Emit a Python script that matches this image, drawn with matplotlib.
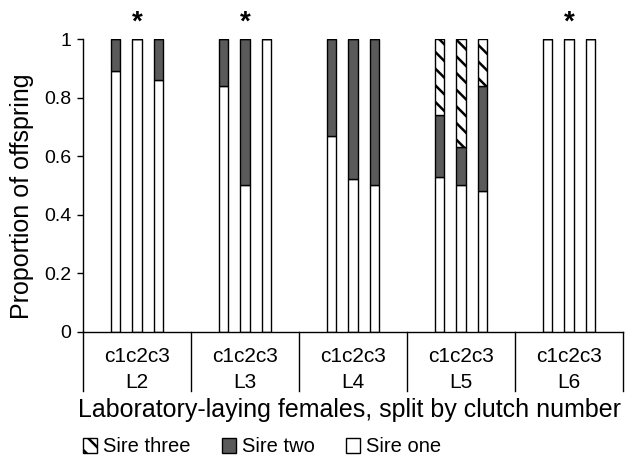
import numpy as np
import matplotlib
matplotlib.use('Agg')
import matplotlib.pyplot as plt
from matplotlib.patches import Patch

plt.rcParams['font.family'] = ['Liberation Sans', 'DejaVu Sans']
plt.rcParams['hatch.linewidth'] = 1.8
plt.rcParams['hatch.color'] = '#333333'

# data
females = ['L2', 'L3', 'L4', 'L5', 'L6']
clutches = ['c1', 'c2', 'c3']
sire_one = [0.89, 1.00, 0.86,
            0.84, 0.50, 1.00,
            0.67, 0.52, 0.50,
            0.53, 0.50, 0.48,
            1.00, 1.00, 1.00]
sire_two = [0.11, 0.00, 0.14,
            0.16, 0.50, 0.00,
            0.33, 0.48, 0.50,
            0.21, 0.13, 0.36,
            0.00, 0.00, 0.00]
sire_three = [0.00, 0.00, 0.00,
              0.00, 0.00, 0.00,
              0.00, 0.00, 0.00,
              0.26, 0.37, 0.16,
              0.00, 0.00, 0.00]
starred = ['L2', 'L3', 'L6']  # significant, marked above c2

dark = '#5a5a5a'
hatch = '\\\\'
bar_w = 0.085
offs = np.array([-0.2, 0.0, 0.2])

fig = plt.figure(figsize=(6.4, 4.58), dpi=100)
ax = fig.add_axes([83 / 640, 1 - 331.7 / 458, 540 / 640, 292.7 / 458])

x = (np.arange(len(females))[:, None] + 0.5 + offs[None, :]).ravel()
s1 = np.array(sire_one)
s2 = np.array(sire_two)
s3 = np.array(sire_three)

ax.bar(x, s1, bar_w, color='white', edgecolor='black', lw=1)
ax.bar(x, s2, bar_w, bottom=s1, color=dark, edgecolor='black', lw=1)
ax.bar(x, s3, bar_w, bottom=s1 + s2, color='white', edgecolor='black',
       lw=1, hatch=hatch)

ax.set_xlim(0, len(females))
ax.set_ylim(0, 1)
ax.set_yticks([0, 0.2, 0.4, 0.6, 0.8, 1])
ax.set_yticklabels(['0', '0.2', '0.4', '0.6', '0.8', '1'])
ax.tick_params(axis='y', labelsize=14, length=4.5, width=1, pad=4)
ax.set_xticks([])
for side in ['top', 'right']:
    ax.spines[side].set_visible(False)
ax.spines['left'].set_linewidth(1)
ax.spines['bottom'].set_linewidth(1)

# group dividers and labels below the axis
for i in range(len(females) + 1):
    ax.plot([i, i], [0, -0.204], color='black', lw=1, clip_on=False)
for i, name in enumerate(females):
    ax.text(i + 0.5, -0.1025, ''.join(clutches), ha='center', va='baseline', fontsize=15)
    ax.text(i + 0.5, -0.193, name, ha='center', va='baseline', fontsize=15)
    if name in starred:
        ax.text(i + 0.5, 1.055, '*', ha='center', va='center', fontsize=20,
                fontweight='bold', clip_on=False)

ax.set_ylabel('Proportion of offspring', fontsize=18)
ax.yaxis.set_label_coords(-0.09, 0.464)
ax.set_xlabel('Laboratory-laying females, split by clutch number', fontsize=18)
ax.xaxis.set_label_coords(0.494, -0.225)

handles = [Patch(facecolor='white', edgecolor='black', hatch=hatch, label='Sire three'),
           Patch(facecolor=dark, edgecolor='black', label='Sire two'),
           Patch(facecolor='white', edgecolor='black', label='Sire one')]
fig.legend(handles=handles, loc='center left', bbox_to_anchor=(83 / 640, 1 - 447 / 458),
           ncol=3, frameon=False, fontsize=14.5, handlelength=0.7, handleheight=0.7,
           handletextpad=0.3, columnspacing=1.55, borderaxespad=0, borderpad=0)

fig.savefig('out.png', dpi=100)
